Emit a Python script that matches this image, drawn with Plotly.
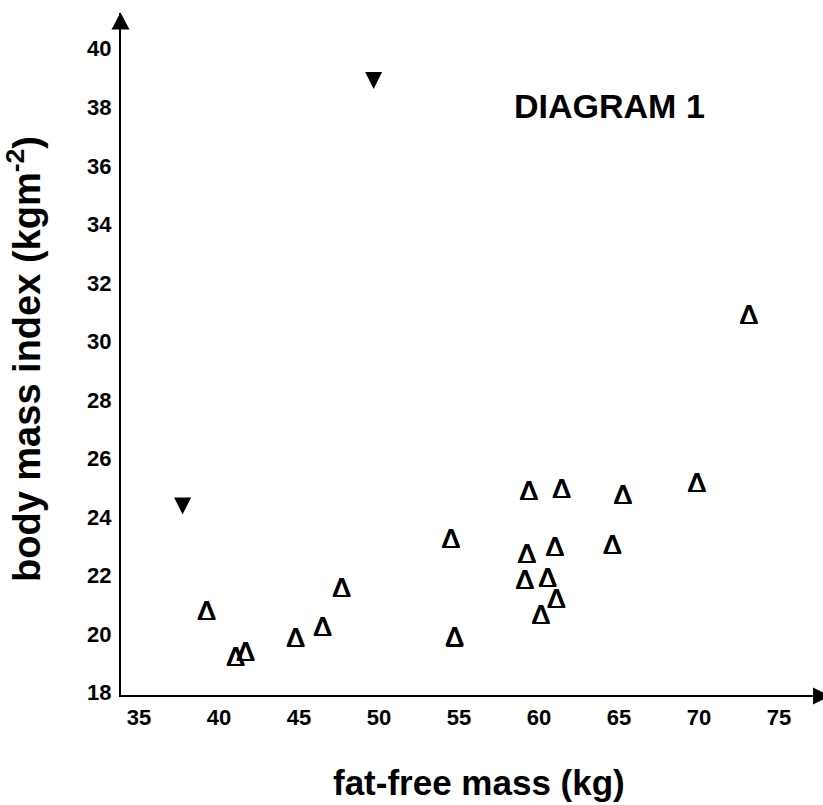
import plotly.graph_objects as go

# Open triangles (group 1)
open_x = [39.22, 41.03, 41.66, 44.78, 46.47, 47.66, 54.49, 54.72, 59.36, 61.41,
          65.24, 69.86, 59.24, 60.99, 64.58, 59.11, 60.53, 61.08, 60.11, 73.11]
open_y = [20.72, 19.15, 19.32, 19.80, 20.18, 21.51, 23.18, 19.82, 24.82, 24.89,
          24.69, 25.10, 22.67, 22.91, 22.98, 21.78, 21.85, 21.13, 20.59, 30.84]

# Filled down-triangles (group 2)
fill_x = [37.72, 49.66]
fill_y = [24.38, 38.91]

x_ticks = [35, 40, 45, 50, 55, 60, 65, 70, 75]
y_ticks = [18, 20, 22, 24, 26, 28, 30, 32, 34, 36, 38, 40]

title_text = "DIAGRAM 1"
x_title = "fat-free mass (kg)"
y_title = "body mass index (kgm<sup>-2</sup>)"

FONT = "Liberation Sans, Arial, sans-serif"

fig = go.Figure()
fig.add_trace(go.Scatter(
    x=open_x, y=open_y, mode="text", text=["Δ"] * len(open_x),
    textposition="middle center",
    textfont=dict(family=FONT, size=27, color="black",
                  shadow="0.6px 0 0 black, -0.6px 0 0 black, 0 0.5px 0 black"),
    hoverinfo="skip", showlegend=False,
))
fig.add_trace(go.Scatter(
    x=fill_x, y=fill_y, mode="markers",
    marker=dict(symbol="arrow-down", size=17, color="black", standoff=8.5,
                line=dict(width=0)),
    hoverinfo="skip", showlegend=False,
))

L, T, B = 121, 13, 110
W, H = 823, 805
pw = W - L
ph = H - T - B

fig.update_layout(
    width=W, height=H,
    margin=dict(l=L, r=0, t=T, b=B, pad=0),
    paper_bgcolor="white", plot_bgcolor="white",
    font=dict(family=FONT, color="black"),
    showlegend=False, hovermode=False,
    xaxis=dict(
        range=[33.87, 33.87 + pw / 16.0],
        tickmode="array", tickvals=x_ticks, ticktext=[str(v) for v in x_ticks],
        showgrid=False, zeroline=False, showline=True, linecolor="black", linewidth=2,
        ticks="", tickfont=dict(family=FONT, size=22, color="black", weight="bold"),
        ticklabelstandoff=2,
    ),
    yaxis=dict(
        range=[17.92, 17.92 + ph / 29.27],
        tickmode="array", tickvals=y_ticks, ticktext=[str(v) for v in y_ticks],
        showgrid=False, zeroline=False, showline=True, linecolor="black", linewidth=2,
        ticks="", tickfont=dict(family=FONT, size=22, color="black", weight="bold"),
        ticklabelstandoff=3,
    ),
)

def px2paper_x(px):
    return (px - L) / pw

def px2paper_y(py):
    return (H - B - py) / ph

def tri_path(pts):
    return "M " + " L ".join(f"{px2paper_x(a):.5f},{px2paper_y(b):.5f}" for a, b in pts) + " Z"

annotations = [
    dict(text=title_text, xref="paper", yref="paper",
         x=px2paper_x(609), y=px2paper_y(106), xanchor="center", yanchor="middle",
         showarrow=False, font=dict(family=FONT, size=34, color="black", weight="bold")),
    dict(text=x_title, xref="paper", yref="paper",
         x=px2paper_x(479), y=px2paper_y(783), xanchor="center", yanchor="middle",
         showarrow=False, font=dict(family=FONT, size=35, color="black", weight="bold")),
    dict(text=y_title, xref="paper", yref="paper", textangle=-90,
         x=px2paper_x(24), y=px2paper_y(359), xanchor="center", yanchor="middle",
         showarrow=False, font=dict(family=FONT, size=38, color="black", weight="bold")),
]

# axis arrowheads (decoration)
shapes = [
    dict(type="path", xref="paper", yref="paper", layer="above",
         path=tri_path([(120.5, 12.5), (111.5, 29.5), (129.5, 29.5)]),
         fillcolor="black", line=dict(color="black", width=0)),
    dict(type="path", xref="paper", yref="paper", layer="above",
         path=tri_path([(813, 687.5), (830, 696), (813, 704.5)]),
         fillcolor="black", line=dict(color="black", width=0)),
]
fig.update_layout(annotations=annotations, shapes=shapes)

fig.write_html("out.html")
